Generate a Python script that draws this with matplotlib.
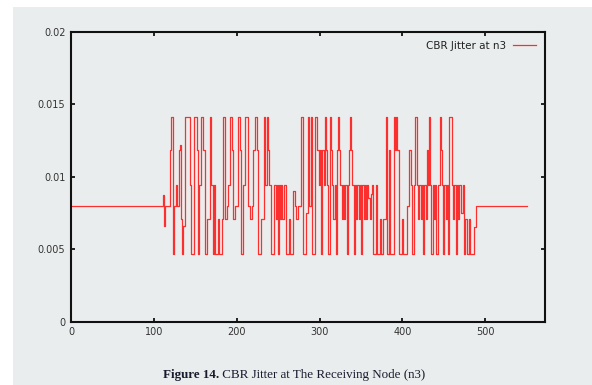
"""CBR jitter at the receiving node (n3), gnuplot-style step plot."""
import matplotlib
matplotlib.use("Agg")
import matplotlib.pyplot as plt
from matplotlib.patches import Rectangle

# jitter levels seen in the trace (seconds)
A, B, C, D, E, F = 0.0047, 0.0071, 0.0080, 0.0094, 0.0118, 0.0141

# simulation time (s) where the jitter value changes
jitter_time = [
    0, 111, 112, 114, 119.5, 121, 122.7, 124.3, 127, 128, 129.9, 131,
    132.3, 133.9, 135.1, 137.9, 143.2, 145.2, 148.4, 152.4, 153.2, 155, 157.2, 158.8,
    161.2, 164, 167.2, 169.3,
    171.3, 173, 174, 177, 178, 182, 184, 185.4, 188, 190, 192, 194,
    196, 198, 202, 204, 205.4, 208, 210, 213, 216, 218, 220, 222,
    224, 226, 229.5, 232.3, 234.4,
    236, 237.5, 239.2, 241.2, 245.2, 247.2, 248.5, 249.3, 251, 252, 253.3, 255,
    257, 259.3, 263, 264, 267.3, 268.5, 270.5, 272.1, 273.4, 277.4, 279.4, 283.4,
    285.4, 287.4, 289.4, 291.4, 294.6, 296.5, 298.7, 300,
    301.5, 303, 305, 306.4, 307.5, 309, 310.5, 312.4, 313.5, 315, 316.5, 318,
    319.5, 321, 322.5, 323.5, 325, 326.5, 328, 329.5, 331, 332.5, 334, 335.5,
    336.5, 338, 339.5, 341, 342.5, 344, 345.5, 347, 348.5, 350, 351.5, 353,
    354.5, 356, 357.5, 359, 360.5, 362, 363.5, 364.7,
    367.5, 369.5, 373, 374, 376.7, 379.6, 380.8, 384, 385.5, 389.6, 390.5, 391.6,
    393, 395.6, 400, 401, 405.7, 407.7, 410, 411.7, 414, 415.7, 417.7, 419,
    420.5, 422, 423.5, 425, 426.5, 428, 429.8,
    431, 432.6, 433.8, 435, 436.5, 438, 439.5, 441, 442.5, 444.7, 446, 447.5,
    449, 450.5, 452, 453.5, 455, 456.7, 459.5, 461, 462.5, 464, 465.5, 467,
    468.5, 470.8, 472.5, 474.8, 476, 478, 480.8, 482, 486.8, 488.8, 550,
]
jitter_value = [
    C, 0.0087, 0.0066, C, E, F, A, C, D, C, E, 0.0122,
    B, A, 0.0066, F, D, A, F, E, A, D, F, E,
    A, B, F, D,
    A, D, A, B, A, B, F, B, C, D, F, E,
    B, C, F, E, A, D, F, C, B, C, E, F,
    E, A, B, F, D,
    F, E, D, A, D, B, D, A, D, B, D, B,
    D, A, B, A, B, 0.0090, C, B, C, F, A, 0.0075,
    F, C, F, A, F, E, D, E,
    A, E, D, F, E, D, A, F, E, D, B, D,
    A, E, F, E, D, B, D, B, D, A, D, E,
    F, E, D, A, D, B, D, B, D, A, D, B,
    D, B, D, 0.0085, B, 0.0088, D, A,
    D, A, B, A, B, F, A, E, A, F, E, F,
    E, A, B, A, C, E, D, A, D, F, D, B,
    D, B, D, A, D, B, E,
    D, F, D, A, D, B, D, A, D, F, E, D,
    A, D, B, D, A, F, D, B, D, A, D, B,
    D, 0.0075, D, A, B, A, B, A, 0.0065, C, C,
]

x_ticks = [0, 100, 200, 300, 400, 500]
y_ticks = [0, 0.005, 0.01, 0.015, 0.02]
y_labels = ["0", "0.005", "0.01", "0.015", "0.02"]

bg = "#eaeded"

fig = plt.figure(figsize=(5.92, 3.85), dpi=100, facecolor="white")
# the scanned page area is grey, with a white strip at top and left
fig.patches.append(Rectangle((13 / 592, 0), 1, 1 - 7 / 385, transform=fig.transFigure,
                             facecolor=bg, edgecolor="none", zorder=-10))

ax = fig.add_axes([71 / 592, 1 - 321.7 / 385, (545 - 71) / 592, (321.7 - 31.5) / 385])
ax.set_facecolor(bg)
ax.plot(jitter_time, jitter_value, drawstyle="steps-post", color="#ff1a1a",
        lw=0.9, alpha=0.9, label="CBR Jitter at n3")

ax.set_xlim(0, 572)
ax.set_ylim(0, 0.02)
ax.set_xticks(x_ticks)
ax.set_yticks(y_ticks)
ax.set_yticklabels(y_labels)
ax.tick_params(direction="in", top=True, right=True, length=3, width=1.2,
               labelsize=7, labelcolor="#333333", pad=4)
for s in ax.spines.values():
    s.set_linewidth(1.5)
    s.set_color("#111111")

leg = ax.legend(loc="upper right", frameon=False, fontsize=7.5, handlelength=2.2,
                markerfirst=False, borderaxespad=0.5, handletextpad=0.6)
for t in leg.get_texts():
    t.set_color("#222222")

# caption: bold figure number followed by regular text
cap1 = fig.text(163 / 592, 1 - 375 / 385, "Figure 14.", ha="left", va="center",
                fontsize=9.4, family="Liberation Serif", weight="bold", color="#1a1a2e")
ax.annotate(" CBR Jitter at The Receiving Node (n3)", xy=(1, 0.5), xycoords=cap1,
            ha="left", va="center", fontsize=9.4, family="Liberation Serif", color="#1a1a2e")

fig.savefig("out.png", dpi=100, facecolor=fig.get_facecolor())
